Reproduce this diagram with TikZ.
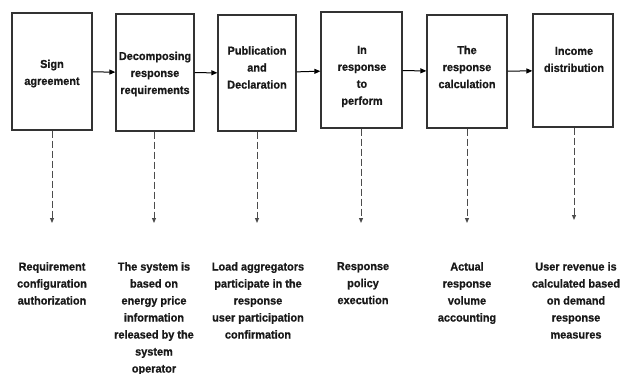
\documentclass[tikz,border=0pt]{standalone}
\usepackage{fontspec}
\setmainfont{Liberation Sans}[BoldFeatures={FakeBold=0.8,FakeStretch=0.95}]
\usetikzlibrary{arrows.meta}
\begin{document}
\begin{tikzpicture}[x=1pt,y=-1pt,
  stepbox/.style={draw=black!80,line width=1.3pt,rectangle,inner sep=0pt},
  lbl/.style={font=\bfseries\fontsize{11.5}{17}\selectfont,align=center,inner sep=0pt,text=black!90},
  flow/.style={-{Triangle[length=6pt,width=5pt]},line width=1pt,black},
  drop/.style={-{Triangle[length=5pt,width=4pt]},dash pattern=on 7pt off 3pt,line width=1pt,black!70}]
\useasboundingbox (0,0) rectangle (620,374);
\clip (0,0) rectangle (620,374);
% boxes
\node[stepbox,minimum width=80pt,minimum height=117pt] (b1) at (52,71.5) {};
\node[stepbox,minimum width=78pt,minimum height=117pt] (b2) at (155,72.5) {};
\node[stepbox,minimum width=78pt,minimum height=116pt] (b3) at (257,73) {};
\node[stepbox,minimum width=81pt,minimum height=116pt] (b4) at (361.5,70) {};
\node[stepbox,minimum width=80pt,minimum height=113pt] (b5) at (467,71.5) {};
\node[stepbox,minimum width=80pt,minimum height=113pt] (b6) at (573,70.5) {};
% box texts
\node[lbl] (t1) at (52,73.5) {Sign\\agreement};
\node[lbl] (t2) at (155,74) {Decomposing\\response\\requirements};
\node[lbl] (t3) at (257,67.5) {Publication\\and\\Declaration};
\node[lbl] (t4) at (362,76.5) {In\\response\\to\\perform};
\node[lbl] (t5) at (467,67) {The\\response\\calculation};
\node[lbl] (t6) at (574,59.5) {Income\\distribution};
% flow arrows
\draw[flow] (b1) -- (b2);
\draw[flow] (b2) -- (b3);
\draw[flow] (b3) -- (b4);
\draw[flow] (b4) -- (b5);
\draw[flow] (b5) -- (b6);
% drop coordinates
\coordinate (d1) at (52,223);
\coordinate (d2) at (154,223);
\coordinate (d3) at (257,223);
\coordinate (d4) at (361,223);
\coordinate (d5) at (467,223);
\coordinate (d6) at (574,220);
\draw[drop] (b1.south -| d1) -- (d1);
\draw[drop] (b2.south -| d2) -- (d2);
\draw[drop] (b3.south -| d3) -- (d3);
\draw[drop] (b4.south -| d4) -- (d4);
\draw[drop] (b5.south -| d5) -- (d5);
\draw[drop] (b6.south -| d6) -- (d6);
% bottom texts
\node[lbl,anchor=north] (r1) at (52,262) {Requirement\\configuration\\authorization};
\node[lbl,anchor=north] (r2) at (154,262) {The system is\\based on\\energy price\\information\\released by the\\system\\operator};
\node[lbl,anchor=north] (r3) at (258,262) {Load aggregators\\participate in the\\response\\user participation\\confirmation};
\node[lbl,anchor=north] (r4) at (363,262) {Response\\policy\\execution};
\node[lbl,anchor=north] (r5) at (467,262) {Actual\\response\\volume\\accounting};
\node[lbl,anchor=north] (r6) at (576,262) {User revenue is\\calculated based\\on demand\\response\\measures};
\end{tikzpicture}
\end{document}
